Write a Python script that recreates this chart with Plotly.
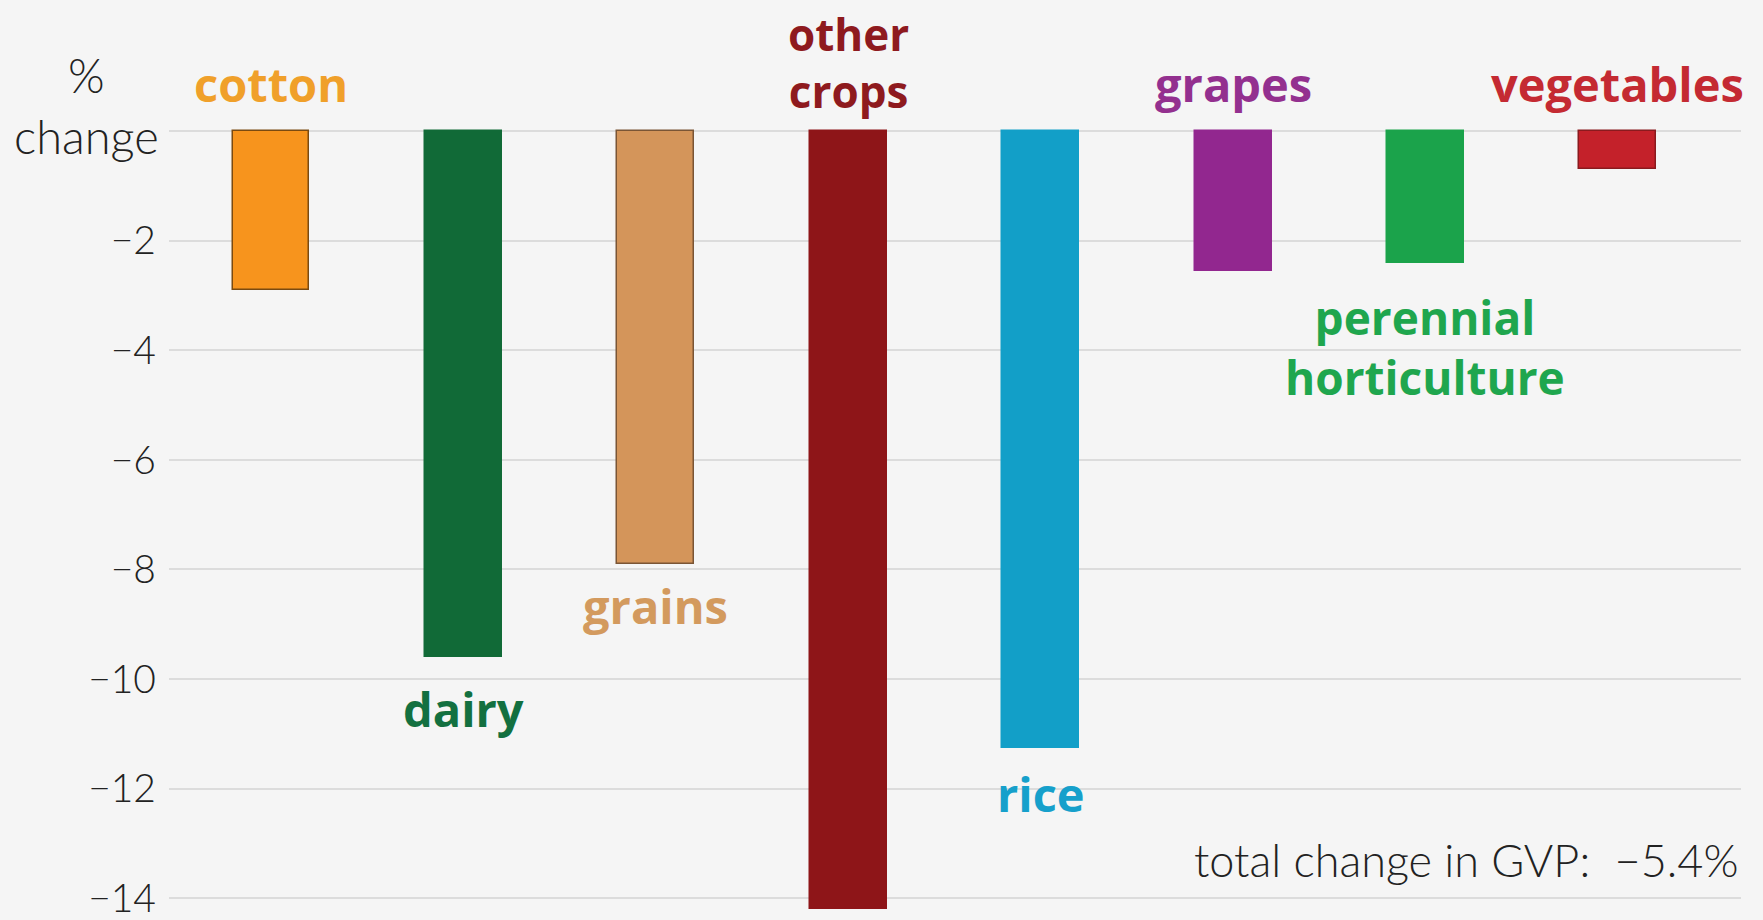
import plotly.graph_objects as go

# data
crops = ["cotton", "dairy", "grains", "other crops", "rice", "grapes",
         "perennial horticulture", "vegetables"]
pct_change = [-2.9, -9.6, -7.9, -14.2, -11.25, -2.55, -2.4, -0.7]
bar_colors = ["#F7941D", "#116A37", "#D4955A", "#8E1518", "#129FC8",
              "#92278F", "#1BA34B", "#C4212A"]
edge_colors = ["#7A4A10", "#116A37", "#7A5535", "#8E1518", "#129FC8",
               "#92278F", "#1BA34B", "#8A1A1E"]
label_colors = ["#F0A02A", "#137040", "#D39A5E", "#8E1A1E", "#16A0CB",
                "#93308F", "#1FA64E", "#C42A32"]
label_text = ["cotton", "dairy", "grains", "other<br>crops", "rice", "grapes",
              "perennial<br>horticulture", "vegetables"]
label_y = [0.86, -10.55, -8.66, 1.25, -12.1, 0.86, -3.94, 0.86]
label_size = [47, 47, 47, 44, 47, 47, 46, 47]
tick_vals = [0, -2, -4, -6, -8, -10, -12, -14]
tick_text = ["", "−2", "−4", "−6", "−8", "−10", "−12", "−14"]
total_note = "total change in GVP:  −5.4%"

x_idx = list(range(len(crops)))

fig = go.Figure()
fig.add_trace(go.Bar(
    x=x_idx, y=pct_change, width=0.40,
    marker=dict(color=bar_colors, line=dict(color=edge_colors, width=1.5)),
    hoverinfo="skip",
))

# category labels in colour, bold
for i, (txt, yy) in enumerate(zip(label_text, label_y)):
    fig.add_annotation(x=i, y=yy, text=f"<b>{txt}</b>", showarrow=False,
                       xanchor="center", yanchor="middle", align="center",
                       font=dict(family="Open Sans", size=label_size[i],
                                 color=label_colors[i]))

# axis title at the top left (pixel position -> paper fraction)
plot_w = 1763 - 169 - 22
fig.add_annotation(x=(86 - 169) / plot_w, y=1 - 106 / 920, xref="paper", yref="paper",
                   text="%<br>change", showarrow=False, xanchor="center",
                   yanchor="middle", align="center",
                   font=dict(family="Lato", size=47, color="#222222", weight=300))

# note bottom right
fig.add_annotation(x=1.0, y=-13.3, xref="paper", yref="y", text=total_note,
                   showarrow=False, xanchor="right", yanchor="middle",
                   font=dict(family="Lato", size=45, color="#222222", weight=300))

fig.update_layout(
    width=1763, height=920,
    margin=dict(l=169, r=22, t=0, b=0),
    paper_bgcolor="#F5F5F5", plot_bgcolor="#F5F5F5",
    showlegend=False,
    bargap=0,
    xaxis=dict(range=[-0.53, 7.64], showticklabels=False, showgrid=False,
               zeroline=False, fixedrange=True),
    yaxis=dict(range=[-14.34, 2.39], tickvals=tick_vals, ticktext=tick_text,
               showgrid=True, gridcolor="#DCDCDC", gridwidth=2,
               zeroline=False, ticks="", ticklabelstandoff=12,
               ticklabeloverflow="allow",
               tickfont=dict(family="Lato", size=39, color="#222222", weight=300),
               fixedrange=True),
)

fig.write_html("out.html", config={"displayModeBar": False},
               post_script="document.body.style.margin='0';")
